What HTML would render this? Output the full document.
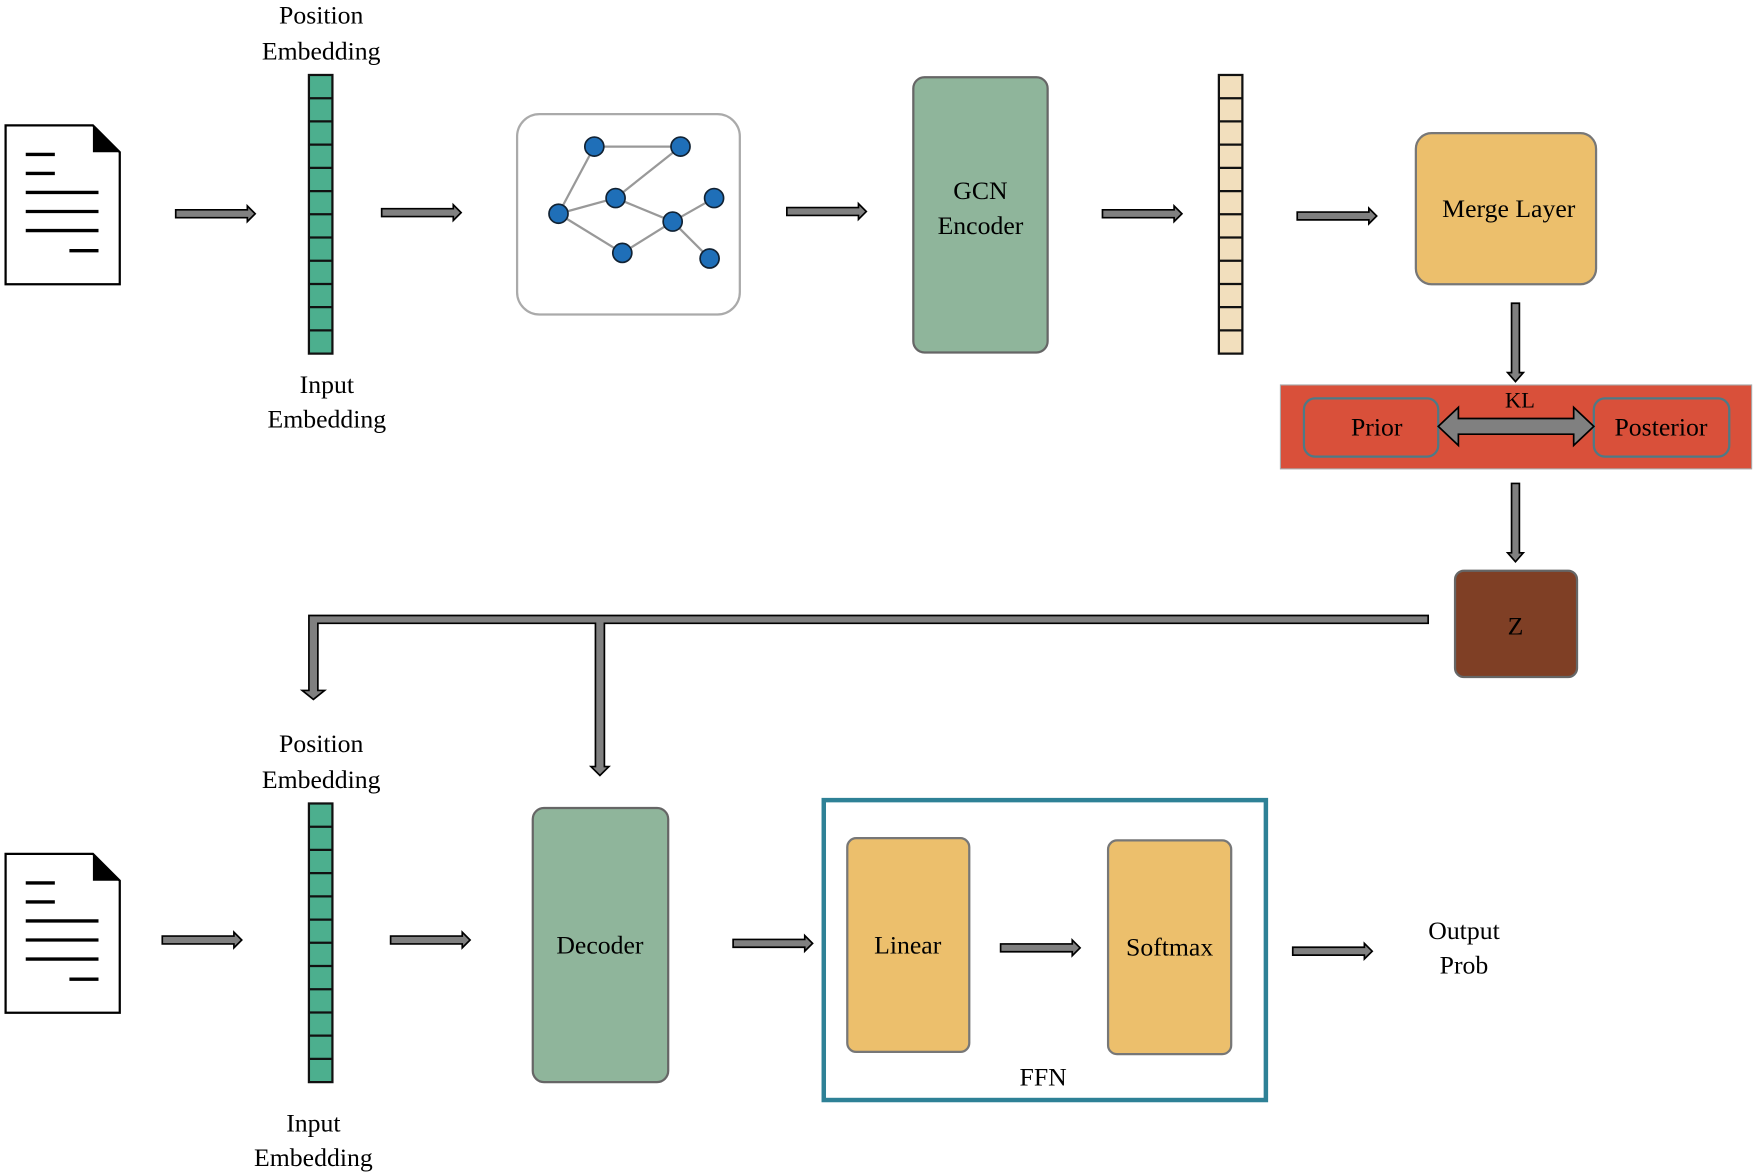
<!DOCTYPE html>
<html><head><style>html,body{margin:0;padding:0;background:#fff}svg{display:block}</style></head><body>
<svg width="1755" height="1175" viewBox="0 0 1568 1050" preserveAspectRatio="none" xmlns="http://www.w3.org/2000/svg" font-family="Liberation Serif, serif" font-size="23">
<defs>
<g id="ar"><path d="M0,-3.5 L64,-3.5 L64,-7 L71,0 L64,7 L64,3.5 L0,3.5 Z" fill="#808080" stroke="#000" stroke-width="1.5"/></g>
<g id="ard"><path d="M-3.5,0 L-3.5,62 L-7,62 L0,70 L7,62 L3.5,62 L3.5,0 Z" fill="#808080" stroke="#000" stroke-width="1.5"/></g>
<g id="doc"><path d="M0,0 L78,0 L102,24 L102,142 L0,142 Z" fill="#fff" stroke="#000" stroke-width="2"/><path d="M78,0 L102,24 L78,24 Z" fill="#000"/>
<g stroke="#000" stroke-width="3"><line x1="18" y1="26" x2="44" y2="26"/><line x1="18" y1="43" x2="44" y2="43"/><line x1="18" y1="60" x2="83" y2="60"/><line x1="18" y1="77" x2="83" y2="77"/><line x1="18" y1="94" x2="83" y2="94"/><line x1="57" y1="112" x2="83" y2="112"/></g></g>
</defs>
<use href="#doc" x="5" y="112"/>
<use href="#ar" x="157" y="191"/>
<use href="#ar" x="341" y="190"/>
<use href="#ar" x="703" y="189"/>
<use href="#ar" x="985" y="191"/>
<use href="#ar" x="1159" y="193"/>
<rect x="276" y="67" width="21" height="249" fill="#4caf8e" stroke="#111" stroke-width="2"/>
<g stroke="#111" stroke-width="2">
<line x1="276" y1="87.75" x2="297" y2="87.75"/><line x1="276" y1="108.5" x2="297" y2="108.5"/><line x1="276" y1="129.25" x2="297" y2="129.25"/><line x1="276" y1="150" x2="297" y2="150"/><line x1="276" y1="170.75" x2="297" y2="170.75"/><line x1="276" y1="191.5" x2="297" y2="191.5"/><line x1="276" y1="212.25" x2="297" y2="212.25"/><line x1="276" y1="233" x2="297" y2="233"/><line x1="276" y1="253.75" x2="297" y2="253.75"/><line x1="276" y1="274.5" x2="297" y2="274.5"/><line x1="276" y1="295.25" x2="297" y2="295.25"/>
</g>
<g text-anchor="middle">
<text x="287" y="21">Position</text><text x="287" y="53">Embedding</text>
<text x="292" y="351">Input</text><text x="292" y="382">Embedding</text>
</g>
<rect x="462" y="102" width="199" height="179" rx="20" fill="#fff" stroke="#aaa" stroke-width="2"/>
<g stroke="#999" stroke-width="2">
<line x1="531" y1="131" x2="608" y2="131"/><line x1="531" y1="131" x2="499" y2="191"/><line x1="608" y1="131" x2="550" y2="177"/><line x1="499" y1="191" x2="550" y2="177"/><line x1="499" y1="191" x2="556" y2="226"/><line x1="550" y1="177" x2="601" y2="198"/><line x1="556" y1="226" x2="601" y2="198"/><line x1="601" y1="198" x2="638" y2="177"/><line x1="601" y1="198" x2="634" y2="231"/>
</g>
<g fill="#1f6fb8" stroke="#123" stroke-width="1.5">
<circle cx="531" cy="131" r="8.5"/><circle cx="608" cy="131" r="8.5"/><circle cx="499" cy="191" r="8.5"/><circle cx="550" cy="177" r="8.5"/><circle cx="601" cy="198" r="8.5"/><circle cx="638" cy="177" r="8.5"/><circle cx="556" cy="226" r="8.5"/><circle cx="634" cy="231" r="8.5"/>
</g>
<rect x="816" y="69" width="120" height="246" rx="10" fill="#8fb59b" stroke="#666" stroke-width="2"/>
<text x="876" y="178" text-anchor="middle">GCN</text><text x="876" y="209" text-anchor="middle">Encoder</text>
<rect x="1089" y="67" width="21" height="249" fill="#f2dfbd" stroke="#111" stroke-width="2"/>
<g stroke="#111" stroke-width="2">
<line x1="1089" y1="87.75" x2="1110" y2="87.75"/><line x1="1089" y1="108.5" x2="1110" y2="108.5"/><line x1="1089" y1="129.25" x2="1110" y2="129.25"/><line x1="1089" y1="150" x2="1110" y2="150"/><line x1="1089" y1="170.75" x2="1110" y2="170.75"/><line x1="1089" y1="191.5" x2="1110" y2="191.5"/><line x1="1089" y1="212.25" x2="1110" y2="212.25"/><line x1="1089" y1="233" x2="1110" y2="233"/><line x1="1089" y1="253.75" x2="1110" y2="253.75"/><line x1="1089" y1="274.5" x2="1110" y2="274.5"/><line x1="1089" y1="295.25" x2="1110" y2="295.25"/>
</g>
<rect x="1265" y="119" width="161" height="135" rx="14" fill="#ecbf6c" stroke="#777" stroke-width="2"/>
<text x="1348" y="194" text-anchor="middle">Merge Layer</text>
<use href="#ard" x="1354" y="271"/>
<rect x="1144" y="344" width="421" height="75" fill="#d9503a" stroke="#aaa" stroke-width="1"/>
<rect x="1165" y="356" width="120" height="52" rx="10" fill="#d9503a" stroke="#4d7a86" stroke-width="2"/>
<rect x="1424" y="356" width="121" height="52" rx="10" fill="#d9503a" stroke="#4d7a86" stroke-width="2"/>
<text x="1230" y="389" text-anchor="middle">Prior</text>
<text x="1484" y="389" text-anchor="middle">Posterior</text>
<text x="1358" y="364" text-anchor="middle" font-size="20">KL</text>
<path d="M1285,381 L1303,364 L1303,374 L1406,374 L1406,364 L1424,381 L1406,398 L1406,388 L1303,388 L1303,398 Z" fill="#808080" stroke="#000" stroke-width="1.5"/>
<use href="#ard" x="1354" y="432"/>
<rect x="1300" y="510" width="109" height="95" rx="8" fill="#7f3f25" stroke="#666" stroke-width="2"/>
<text x="1354" y="567" text-anchor="middle">Z</text>
<path d="M1276,550 L276,550 L276,617 L270,617 L280,625 L290,617 L284,617 L284,557 L532,557 L532,685 L528,685 L536,693 L544,685 L540,685 L540,557 L1276,557 Z" fill="#808080" stroke="#000" stroke-width="1.5"/>
<use href="#doc" x="5" y="763"/>
<use href="#ar" x="145" y="840"/>
<use href="#ar" x="349" y="840"/>
<use href="#ar" x="655" y="843"/>
<use href="#ar" x="1155" y="850"/>
<rect x="276" y="718" width="21" height="249" fill="#4caf8e" stroke="#111" stroke-width="2"/>
<g stroke="#111" stroke-width="2">
<line x1="276" y1="738.75" x2="297" y2="738.75"/><line x1="276" y1="759.5" x2="297" y2="759.5"/><line x1="276" y1="780.25" x2="297" y2="780.25"/><line x1="276" y1="801" x2="297" y2="801"/><line x1="276" y1="821.75" x2="297" y2="821.75"/><line x1="276" y1="842.5" x2="297" y2="842.5"/><line x1="276" y1="863.25" x2="297" y2="863.25"/><line x1="276" y1="884" x2="297" y2="884"/><line x1="276" y1="904.75" x2="297" y2="904.75"/><line x1="276" y1="925.5" x2="297" y2="925.5"/><line x1="276" y1="946.25" x2="297" y2="946.25"/>
</g>
<g text-anchor="middle">
<text x="287" y="672">Position</text><text x="287" y="704">Embedding</text>
<text x="280" y="1011">Input</text><text x="280" y="1042">Embedding</text>
</g>
<rect x="476" y="722" width="121" height="245" rx="10" fill="#8fb59b" stroke="#666" stroke-width="2"/>
<text x="536" y="852" text-anchor="middle">Decoder</text>
<rect x="736" y="715" width="395" height="268" fill="#fff" stroke="#2e8196" stroke-width="4"/>
<rect x="757" y="749" width="109" height="191" rx="8" fill="#ecbf6c" stroke="#777" stroke-width="2"/>
<rect x="990" y="751" width="110" height="191" rx="8" fill="#ecbf6c" stroke="#777" stroke-width="2"/>
<use href="#ar" x="894" y="847"/>
<text x="811" y="852" text-anchor="middle">Linear</text>
<text x="1045" y="854" text-anchor="middle">Softmax</text>
<text x="932" y="970" text-anchor="middle">FFN</text>
<text x="1308" y="839" text-anchor="middle">Output</text>
<text x="1308" y="870" text-anchor="middle">Prob</text>
</svg>
</body></html>
